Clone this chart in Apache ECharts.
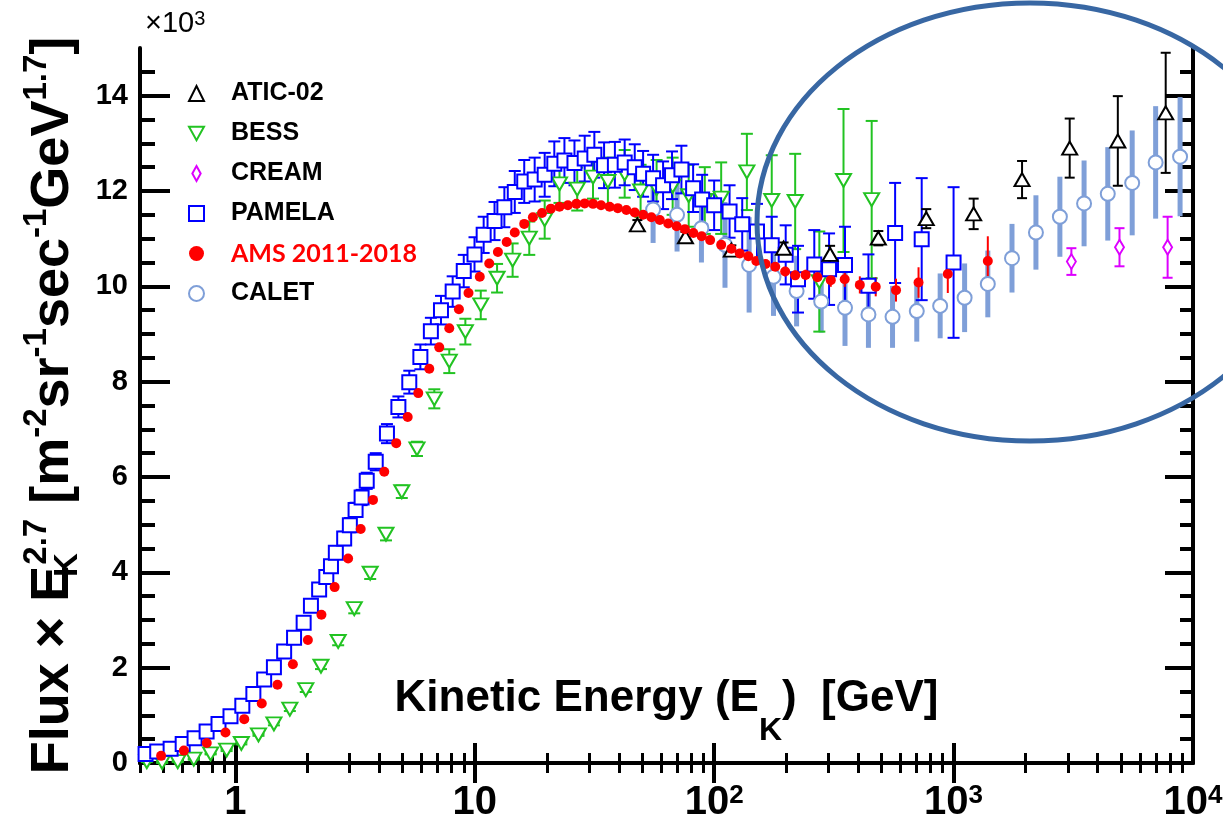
<!DOCTYPE html>
<html>
<head>
<meta charset="utf-8">
<script src="https://cdn.jsdelivr.net/npm/echarts@6/dist/echarts.min.js"></script>
<style>
html, body { margin: 0; background: #fff; }
#main { width: 1223px; height: 829px; }
</style>
</head>
<body>
<div id="main"></div>
<script>
// ---- data: kinetic energy [GeV], flux x E^2.7 [x10^3], error ----
var amsE = [0.49, 0.61, 0.76, 0.91, 1.09, 1.29, 1.50, 1.74, 2.01, 2.29, 2.60, 2.96, 3.34, 3.76, 4.19, 4.70, 5.25, 5.81, 6.46, 7.11,
  7.83, 8.59, 9.42, 10.5, 11.5, 12.5, 13.6, 14.7, 16.1, 17.5, 19.1, 20.8, 22.6, 24.5, 26.6, 28.8, 31.2, 33.7, 36.6, 39.6,
  43.0, 46.6, 50.5, 54.7, 59.3, 64.3, 69.7, 75.5, 81.9, 88.7, 96.2, 107, 118, 128, 139, 150, 164, 180, 198, 218,
  241, 270, 307, 351, 406, 473, 575, 714, 946, 1390];
var amsF = [0.15, 0.26, 0.42, 0.64, 0.92, 1.25, 1.64, 2.07, 2.58, 3.11, 3.69, 4.29, 4.91, 5.52, 6.11, 6.71, 7.26, 7.76, 8.27, 8.72,
  9.12, 9.52, 9.86, 10.20, 10.48, 10.72, 10.93, 11.13, 11.31, 11.45, 11.54, 11.63, 11.67, 11.70, 11.73, 11.74, 11.73, 11.70, 11.67, 11.64,
  11.60, 11.55, 11.50, 11.45, 11.39, 11.32, 11.26, 11.20, 11.12, 11.05, 10.97, 10.87, 10.79, 10.69, 10.63, 10.53, 10.47, 10.41, 10.31, 10.23,
  10.24, 10.19, 10.13, 10.15, 10.03, 9.99, 9.92, 10.08, 10.26, 10.53];
var amsErr = [0.02, 0.02, 0.02, 0.02, 0.02, 0.03, 0.03, 0.03, 0.03, 0.04, 0.04, 0.04, 0.04, 0.05, 0.05, 0.05, 0.05, 0.05, 0.05, 0.05,
  0.05, 0.05, 0.05, 0.05, 0.05, 0.05, 0.05, 0.05, 0.05, 0.05, 0.05, 0.05, 0.05, 0.05, 0.05, 0.05, 0.05, 0.05, 0.05, 0.05,
  0.05, 0.05, 0.05, 0.05, 0.05, 0.06, 0.06, 0.06, 0.06, 0.06, 0.07, 0.07, 0.07, 0.08, 0.08, 0.08, 0.09, 0.09, 0.1, 0.1,
  0.11, 0.12, 0.14, 0.16, 0.18, 0.2, 0.24, 0.32, 0.4, 0.52];

var pamE = [0.422, 0.472, 0.537, 0.603, 0.676, 0.759, 0.851, 0.955, 1.07, 1.19, 1.32, 1.45, 1.60, 1.76, 1.93, 2.07, 2.24, 2.40, 2.51, 2.63,
  2.85, 3.01, 3.18, 3.37, 3.54, 3.86, 4.30, 4.80, 5.33, 5.93, 6.56, 7.23, 8.09, 9.00, 9.98, 10.9, 12.1, 13.3, 14.7, 16.1,
  17.8, 19.6, 21.5, 23.7, 26.1, 28.8, 31.6, 34.7, 38.5, 42.3, 46.6, 50.5, 55.6, 61.2, 66.7, 73.0, 81.7, 89.1, 100, 116,
  131, 151, 174, 199, 224, 262, 302, 352, 441, 570, 736, 1000];
var pamF = [0.19, 0.24, 0.30, 0.40, 0.52, 0.66, 0.82, 0.98, 1.20, 1.45, 1.75, 2.01, 2.34, 2.63, 2.94, 3.30, 3.64, 3.90, 4.13, 4.41,
  4.71, 4.99, 5.31, 5.57, 5.92, 6.32, 6.91, 7.47, 7.99, 8.52, 9.06, 9.50, 9.89, 10.32, 10.67, 11.08, 11.37, 11.66, 11.98, 12.20,
  12.24, 12.34, 12.57, 12.64, 12.59, 12.68, 12.76, 12.54, 12.55, 12.60, 12.50, 12.36, 12.27, 12.12, 12.33, 12.45, 12.06, 11.82, 11.70, 11.57,
  11.30, 11.15, 10.86, 10.66, 10.15, 10.46, 10.36, 10.45, 10.01, 11.12, 10.99, 10.50];
var pamErr = [0.03, 0.03, 0.03, 0.03, 0.04, 0.04, 0.05, 0.05, 0.06, 0.06, 0.07, 0.08, 0.08, 0.09, 0.1, 0.1, 0.11, 0.12, 0.12, 0.13,
  0.14, 0.15, 0.15, 0.16, 0.17, 0.18, 0.2, 0.22, 0.24, 0.26, 0.28, 0.3, 0.32, 0.34, 0.36, 0.38, 0.4, 0.42, 0.44, 0.45,
  0.46, 0.46, 0.47, 0.47, 0.47, 0.48, 0.48, 0.48, 0.48, 0.48, 0.48, 0.48, 0.49, 0.5, 0.5, 0.5, 0.5, 0.52, 0.52, 0.55,
  0.55, 0.58, 0.6, 0.62, 0.7, 0.72, 0.75, 0.8, 0.66, 1.05, 1.28, 1.58];

var bessE = [0.427, 0.495, 0.575, 0.671, 0.789, 0.92, 1.06, 1.25, 1.45, 1.69, 1.97, 2.28, 2.69, 3.14, 3.66, 4.26, 4.96, 5.74, 6.78, 7.83,
  9.14, 10.6, 12.4, 14.4, 16.9, 19.6, 22.6, 26.8, 31.2, 36.0, 42.3, 49.3, 57.5, 67.1, 78.3, 91.4, 107, 137, 174, 218,
  275, 347, 455];
var bessF = [0.03, 0.01, 0.03, 0.08, 0.19, 0.27, 0.41, 0.59, 0.82, 1.13, 1.54, 2.03, 2.55, 3.24, 3.98, 4.80, 5.69, 6.59, 7.64, 8.43,
  9.05, 9.61, 10.17, 10.55, 11.01, 11.40, 12.15, 12.04, 12.29, 12.20, 12.36, 12.00, 12.05, 12.10, 11.90, 11.80, 11.85, 12.40, 11.80, 11.78,
  10.10, 12.22, 11.82];
var bessErr = [0.01, 0.01, 0.01, 0.01, 0.01, 0.02, 0.02, 0.02, 0.03, 0.04, 0.05, 0.06, 0.08, 0.1, 0.12, 0.13, 0.13, 0.15, 0.2, 0.25,
  0.27, 0.3, 0.3, 0.35, 0.35, 0.4, 0.4, 0.45, 0.45, 0.5, 0.5, 0.55, 0.6, 0.6, 0.65, 0.7, 0.75, 0.8, 0.95, 1.0,
  1.05, 1.5, 1.65];

var aticE = [47.8, 75.9, 118, 195, 305, 485, 769, 1213, 1932, 3055, 4853, 7691];
var aticF = [11.29, 11.04, 10.76, 10.80, 10.67, 11.01, 11.42, 11.52, 12.24, 12.90, 13.05, 13.64];
var aticErr = [0.1, 0.1, 0.1, 0.12, 0.18, 0.15, 0.2, 0.32, 0.39, 0.62, 0.94, 1.26];

var creamE = [3105, 4932, 7834];
var creamF = [10.52, 10.82, 10.82];
var creamErr = [0.28, 0.4, 0.64];

var caletE = [55.6, 70.0, 88.5, 111, 140, 177, 221, 280, 352, 441, 556, 702, 879, 1112, 1390, 1754, 2208, 2780, 3508, 4406,
  5572, 6982, 8831];
var caletF = [11.61, 11.50, 11.22, 10.87, 10.45, 10.20, 9.90, 9.68, 9.55, 9.41, 9.36, 9.48, 9.59, 9.76, 10.05, 10.59, 11.13, 11.46, 11.74, 11.94,
  12.17, 12.60, 12.72];
var caletErr = [0.7, 0.77, 0.72, 0.9, 1.0, 0.82, 0.74, 0.65, 0.8, 0.7, 0.65, 0.64, 0.68, 0.72, 0.7, 0.72, 0.78, 0.84, 0.9, 0.98,
  1.1, 1.18, 1.25];

// ---- ticks ----
var xMajor = [1, 10, 100, 1000];
var xMinor = [0.4, 0.5, 0.6, 0.7, 0.8, 0.9, 2, 3, 4, 5, 6, 7, 8, 9, 20, 30, 40, 50, 60, 70, 80, 90,
  200, 300, 400, 500, 600, 700, 800, 900, 2000, 3000, 4000, 5000, 6000, 7000, 8000, 9000];
var xLabelVals = [1, 10, 100, 1000, 10000];
var xLabelText = ['1', '10', '{b|10}{s|2}', '{b|10}{s|3}', '{b|10}{s|4}'];
var yMajor = [0, 2, 4, 6, 8, 10, 12, 14];
var yMinor = [0.5, 1, 1.5, 2.5, 3, 3.5, 4.5, 5, 5.5, 6.5, 7, 7.5, 8.5, 9, 9.5, 10.5, 11, 11.5, 12.5, 13, 13.5, 14.5];

var FONT = 'Liberation Sans, Arial, sans-serif';

function rows(E, F, Err) {
  return E.map(function (e, i) { return [e, F[i], Err[i]]; });
}

function errBar(color, width, cap) {
  return function (params, api) {
    var x = api.value(0), y = api.value(1), e = api.value(2);
    var hi = api.coord([x, y + e]);
    var lo = api.coord([x, y - e]);
    var st = { stroke: color, lineWidth: width };
    var kids = [{ type: 'line', shape: { x1: hi[0], y1: hi[1], x2: lo[0], y2: lo[1] }, style: st }];
    if (cap) {
      kids.push({ type: 'line', shape: { x1: hi[0] - cap, y1: hi[1], x2: hi[0] + cap, y2: hi[1] }, style: st });
      kids.push({ type: 'line', shape: { x1: lo[0] - cap, y1: lo[1], x2: lo[0] + cap, y2: lo[1] }, style: st });
    }
    return { type: 'group', children: kids };
  };
}

function bars(data, color, width, cap) {
  return {
    type: 'custom', renderItem: errBar(color, width, cap), data: data,
    encode: { x: 0, y: 1 }, silent: true, xAxisIndex: 0, yAxisIndex: 0
  };
}

function points(name, data, symbol, size, fill, stroke, bw) {
  return {
    name: name, type: 'scatter', data: data, symbol: symbol, symbolSize: size,
    xAxisIndex: 0, yAxisIndex: 0, silent: true,
    itemStyle: { color: fill, borderColor: stroke, borderWidth: bw, opacity: 1 }
  };
}

var amsData = rows(amsE, amsF, amsErr);
var pamData = rows(pamE, pamF, pamErr);
var bessData = rows(bessE, bessF, bessErr);
var aticData = rows(aticE, aticF, aticErr);
var creamData = rows(creamE, creamF, creamErr);
var caletData = rows(caletE, caletF, caletErr);

var C_ATIC = '#000000', C_BESS = '#22c322', C_CREAM = '#dd00ff', C_PAM = '#0000ff', C_AMS = '#ff0000', C_CALET = '#7f9fd8';

function xAxisDef(pos, ticks, len, width, main) {
  return {
    type: 'log', position: pos, min: 0.4, max: 10000, logBase: 10,
    axisLine: { show: main, lineStyle: { color: '#000', width: 4 } },
    axisTick: { show: true, inside: true, length: len, customValues: ticks, lineStyle: { color: '#000', width: width } },
    axisLabel: { show: false },
    splitLine: { show: false }, minorTick: { show: false }
  };
}

function yAxisDef(pos, ticks, len, width, main) {
  return {
    type: 'value', position: pos, min: 0, max: 15,
    axisLine: { show: main, lineStyle: { color: '#000', width: 4 } },
    axisTick: { show: true, inside: true, length: len, customValues: ticks, lineStyle: { color: '#000', width: width } },
    axisLabel: { show: false },
    splitLine: { show: false }
  };
}

var xBottom = xAxisDef('bottom', xMajor, 20, 4, true);
xBottom.axisLabel = {
  show: true, customValues: xLabelVals, margin: 20,
  fontFamily: FONT, fontSize: 40, fontWeight: 'bold', color: '#000',
  formatter: function (v) {
    for (var i = 0; i < xLabelVals.length; i++) {
      if (Math.abs(Math.log10(v) - Math.log10(xLabelVals[i])) < 0.01) return xLabelText[i];
    }
    return '';
  },
  rich: {
    b: { fontFamily: FONT, fontSize: 40, fontWeight: 'bold', color: '#000' },
    s: { fontFamily: FONT, fontSize: 26, fontWeight: 'bold', color: '#000', verticalAlign: 'top' }
  }
};
xBottom.name = '{a|Kinetic Energy (E}{k|K}{a|)  [GeV]}';
xBottom.nameLocation = 'middle';
xBottom.nameGap = -112;
xBottom.nameTextStyle = {
  rich: {
    a: { fontFamily: FONT, fontSize: 44, fontWeight: 'bold', color: '#000', lineHeight: 96 },
    k: { fontFamily: FONT, fontSize: 32, fontWeight: 'bold', color: '#000', verticalAlign: 'bottom' }
  }
};

var yLeft = yAxisDef('left', yMajor, 30, 4, true);
yLeft.axisLabel = {
  show: true, customValues: yMajor, margin: 12,
  fontFamily: FONT, fontSize: 29, fontWeight: 'bold', color: '#000'
};
yLeft.name = '{a|Flux × E}{k|K}{s|2.7}{a| [m}{s|-2}{a|sr}{s|-1}{a|sec}{s|-1}{a|GeV}{s|1.7}{a|]}';
yLeft.nameLocation = 'middle';
yLeft.nameRotate = 90;
yLeft.nameGap = 55;
yLeft.nameTextStyle = {
  rich: {
    a: { fontFamily: FONT, fontSize: 54, fontWeight: 'bold', color: '#000', lineHeight: 64 },
    s: { fontFamily: FONT, fontSize: 33, fontWeight: 'bold', color: '#000', verticalAlign: 'top' },
    k: { fontFamily: FONT, fontSize: 33, fontWeight: 'bold', color: '#000', verticalAlign: 'bottom', width: 1 }
  }
};

var legendText = { fontFamily: FONT, fontSize: 25, fontWeight: 'bold', color: '#000', lineHeight: 25, padding: [0, 0, 0, 22] };

var chart = echarts.init(document.getElementById('main'));
chart.setOption({
  animation: false,
  backgroundColor: '#fff',
  title: {
    text: '{a|×10}{s|3}', left: 140, top: 4,
    textStyle: {
      fontFamily: FONT, fontSize: 29, fontWeight: 'normal', color: '#000',
      rich: {
        a: { fontFamily: FONT, fontSize: 29, fontWeight: 'normal', color: '#000' },
        s: { fontFamily: FONT, fontSize: 20, fontWeight: 'normal', color: '#000', verticalAlign: 'top' }
      }
    }
  },
  grid: { left: 140, right: 30, top: 48, bottom: 66, containLabel: false, outerBoundsMode: 'none' },
  legend: {
    orient: 'vertical', left: 183, top: 76, itemWidth: 15, itemHeight: 15, itemGap: 15,
    textStyle: legendText,
    data: ['ATIC-02', 'BESS',
      { name: 'CREAM', icon: 'path://M5,0L10,9L5,18L0,9Z' },
      'PAMELA',
      { name: 'AMS 2011-2018', textStyle: { color: '#ff0000', fontFamily: 'Lato, Open Sans, sans-serif', fontSize: 25, fontWeight: 'bold', padding: [0, 0, 0, 22] } },
      'CALET'],
    selectedMode: false
  },
  xAxis: [
    xBottom,
    xAxisDef('bottom', xMinor, 10, 3, false),
    xAxisDef('top', xMajor, 20, 4, true),
    xAxisDef('top', xMinor, 10, 3, false)
  ],
  yAxis: [
    yLeft,
    yAxisDef('left', yMinor, 15, 4, false),
    yAxisDef('right', yMajor, 28, 4, true),
    yAxisDef('right', yMinor, 13, 4, false)
  ],
  series: [
    bars(caletData, C_CALET, 5, 0),
    points('CALET', caletData, 'circle', 14, '#fff', C_CALET, 2),
    bars(bessData, C_BESS, 2, 6),
    points('BESS', bessData, 'path://M0,0L10,0L5,9Z', [15, 13], '#fff', C_BESS, 2),
    bars(pamData, C_PAM, 2, 6),
    points('PAMELA', pamData, 'rect', 14, '#fff', C_PAM, 2),
    bars(aticData, C_ATIC, 2, 5),
    points('ATIC-02', aticData, 'triangle', [15, 13], '#fff', C_ATIC, 2),
    bars(creamData, C_CREAM, 2, 5),
    points('CREAM', creamData, 'diamond', [9, 15], '#fff', C_CREAM, 2),
    bars(amsData, C_AMS, 2, 0),
    points('AMS 2011-2018', amsData, 'circle', 10, C_AMS, C_AMS, 0)
  ],
  graphic: [{
    type: 'ellipse', silent: true, z: 100,
    shape: { cx: 1030, cy: 222, rx: 273, ry: 219 },
    style: { fill: 'none', stroke: '#3867a3', lineWidth: 5 }
  }]
});
</script>
</body>
</html>
